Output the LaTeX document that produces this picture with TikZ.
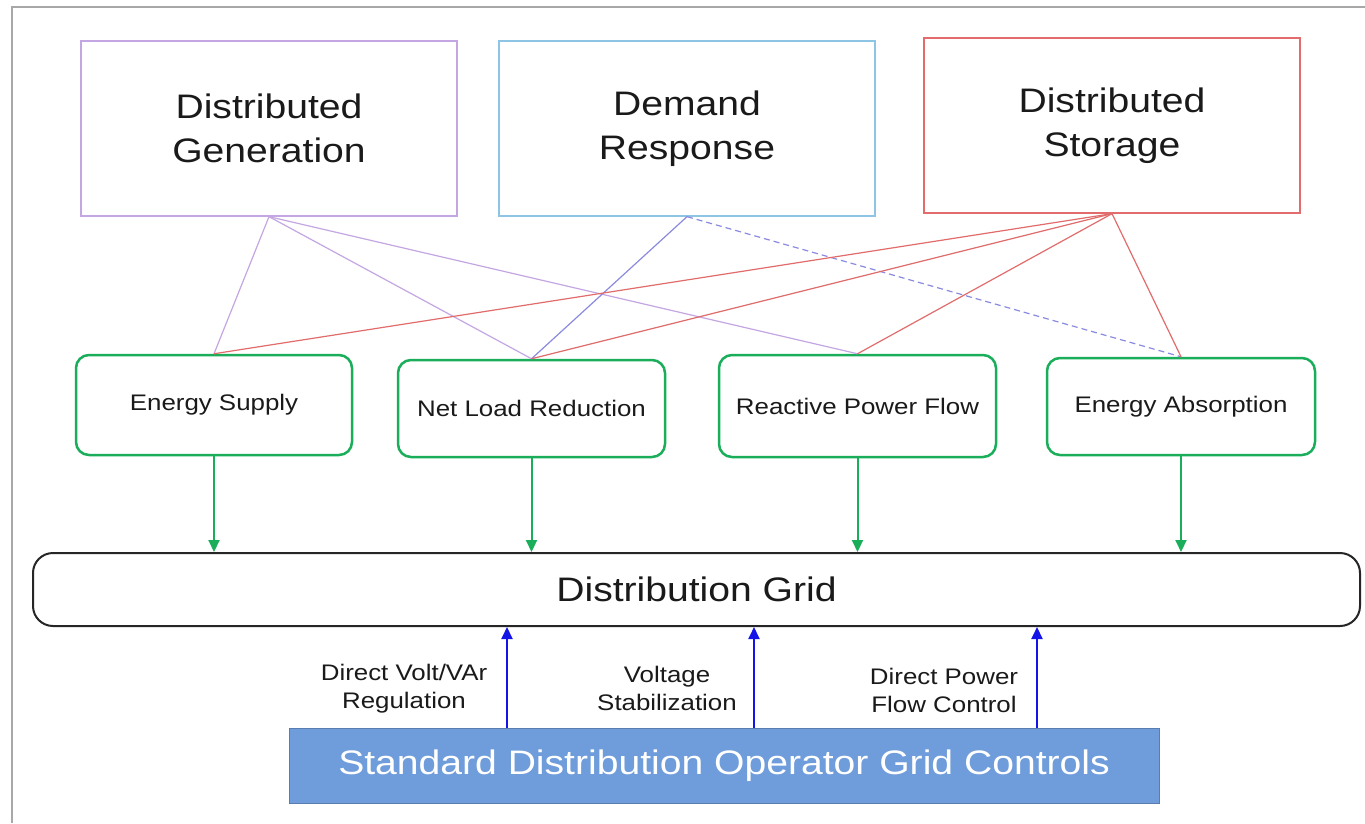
\documentclass[tikz,border=0pt]{standalone}
\usepackage{fontspec}
\setmainfont{Liberation Sans}[FakeStretch=1.15]
\usetikzlibrary{arrows.meta,calc}
\definecolor{dgpurple}{HTML}{C4A6E2}
\definecolor{drblue}{HTML}{8EC5E4}
\definecolor{dsred}{HTML}{E26C6C}
\definecolor{grn}{HTML}{1AAE5A}
\definecolor{arrblue}{HTML}{1414E8}
\definecolor{ctrlfill}{HTML}{6F9CDA}
\definecolor{framegray}{HTML}{A8A8A8}
\definecolor{linkblue}{HTML}{8A8AE0}
\definecolor{txt}{HTML}{1A1A1A}
\begin{document}
\begin{tikzpicture}[x=1pt,y=-1pt,
  topbox/.style={draw, line width=1.3pt, minimum width=376pt, minimum height=175pt,
    align=center, inner sep=0pt, text=txt, font=\fontsize{34}{44}\selectfont},
  greenbox/.style={draw=grn, line width=2.5pt, rounded corners=13pt, inner sep=0pt,
    text=txt, font=\fontsize{22.5}{27}\selectfont},
  lbl/.style={align=center, inner sep=0pt, text=txt, font=\fontsize{22.5}{28}\selectfont},
  purpleline/.style={draw=dgpurple, line width=1.2pt},
  blueline/.style={draw=linkblue, line width=1.2pt},
  redline/.style={draw=dsred, line width=1.2pt},
  garrow/.style={draw=grn, line width=2pt, -{Triangle[length=12pt,width=11pt]}},
  barrow/.style={draw=arrblue, line width=2pt, -{Triangle[length=12pt,width=11pt]}}
]
\useasboundingbox (0,0) rectangle (1365,823);
\fill[white] (0,0) rectangle (1365,823);
\draw[framegray, line width=2pt] (12,823) -- (12,7) -- (1365,7);

% top boxes
\node[topbox, draw=dgpurple] (dg) at (269,128.5) {Distributed\\Generation};
\node[topbox, draw=drblue] (dr) at (687,128.5) {Demand\\Response};
\node[topbox, draw=dsred] (ds) at (1112,125.5) {Distributed\\Storage};

% green boxes
\node[greenbox, minimum width=276pt, minimum height=100pt] (es) at (214,405) {Energy Supply};
\node[greenbox, minimum width=267pt, minimum height=97pt] (nlr) at (531.5,408.5) {Net Load Reduction};
\node[greenbox, minimum width=277pt, minimum height=102pt] (rpf) at (857.5,406) {Reactive Power Flow};
\node[greenbox, minimum width=268pt, minimum height=97pt] (ea) at (1181,406.5) {Energy Absorption};

% grid and controls
\node[draw=black!85, line width=2pt, rounded corners=20pt, minimum width=1327pt,
  minimum height=73pt, inner sep=0pt, text=txt, font=\fontsize{34}{40}\selectfont]
  (grid) at (696.5,589.5) {Distribution Grid};
\node[fill=ctrlfill, draw=ctrlfill!80!black, line width=1pt, minimum width=870pt,
  minimum height=75pt, inner sep=0pt, text=white, font=\fontsize{34}{40}\selectfont]
  (ctrl) at (724,765.5) {Standard Distribution Operator Grid Controls};

% connectors top
\draw[purpleline] (dg.south) -- (es.north);
\draw[purpleline] (dg.south) -- (nlr.north);
\draw[purpleline] (dg.south) -- (rpf.north);
\draw[blueline] (dr.south) -- (nlr.north);
\draw[blueline, dash pattern=on 6pt off 4pt] (dr.south) -- (ea.north);
\draw[redline] (ds.south) -- (es.north);
\draw[redline] (ds.south) -- (nlr.north);
\draw[redline] (ds.south) -- (rpf.north);
\draw[redline] (ds.south) -- (ea.north);

% green arrows
\draw[garrow] (es.south) -- (es.south |- grid.north);
\draw[garrow] (nlr.south) -- (nlr.south |- grid.north);
\draw[garrow] (rpf.south) -- (rpf.south |- grid.north);
\draw[garrow] (ea.south) -- (ea.south |- grid.north);

% blue arrows
\coordinate (b1) at ($(ctrl.north)+(-217,0)$);
\coordinate (b2) at ($(ctrl.north)+(30,0)$);
\coordinate (b3) at ($(ctrl.north)+(313,0)$);
\draw[barrow] (b1) -- (b1 |- grid.south);
\draw[barrow] (b2) -- (b2 |- grid.south);
\draw[barrow] (b3) -- (b3 |- grid.south);

% labels
\node[lbl] (l1) at (404,689) {Direct Volt/VAr\\Regulation};
\node[lbl] (l2) at (667,688) {Voltage\\Stabilization};
\node[lbl] (l3) at (944,690) {Direct Power\\Flow Control};
\end{tikzpicture}
\end{document}
